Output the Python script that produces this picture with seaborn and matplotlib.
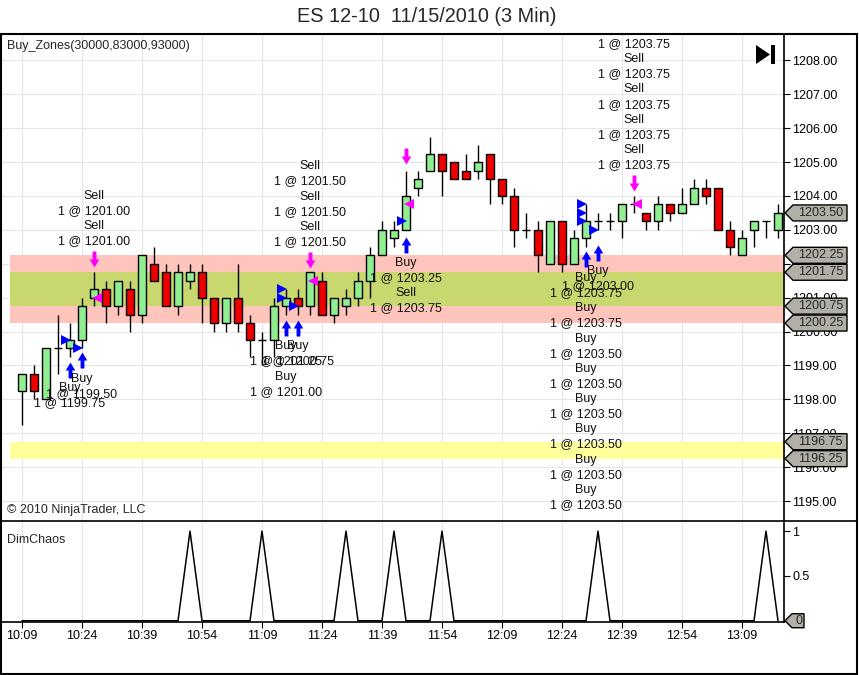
import matplotlib
matplotlib.use('Agg')
import matplotlib.pyplot as plt
from matplotlib.patches import Polygon, Rectangle
from matplotlib.lines import Line2D
from matplotlib.path import Path
from matplotlib.transforms import offset_copy, IdentityTransform
import numpy as np
import pandas as pd
import seaborn as sns

sns.set_theme(style='white')
plt.rcParams['font.family'] = ['Liberation Sans', 'DejaVu Sans']

# --- data (3 min bars from 10:09) ---
start_time = '2010-11-15 10:09'
opens = [1198.25, 1198.75, 1198.00, 1199.50, 1199.50, 1199.75, 1201.00, 1201.25, 1200.75, 1201.25,
         1200.50, 1202.00, 1201.75, 1200.75, 1201.50, 1201.75, 1201.00, 1200.25, 1201.00, 1200.25,
         1199.75, 1199.75, 1200.75, 1201.00, 1200.75, 1201.50, 1200.50, 1200.75, 1201.00, 1201.50,
         1202.25, 1202.75, 1203.00, 1204.25, 1204.75, 1205.25, 1205.00, 1204.75, 1204.75, 1205.25,
         1204.50, 1204.00, 1203.00, 1203.00, 1202.00, 1203.25, 1202.00, 1202.75, 1203.25, 1203.25,
         1203.25, 1203.75, 1203.50, 1203.25, 1203.75, 1203.50, 1203.75, 1204.25, 1204.25, 1203.00,
         1202.25, 1203.00, 1203.25, 1203.00]
highs = [1198.75, 1199.00, 1199.50, 1200.50, 1200.25, 1201.00, 1201.75, 1201.50, 1201.50, 1201.50,
         1202.25, 1202.50, 1202.00, 1202.00, 1202.00, 1202.00, 1201.00, 1201.00, 1202.00, 1200.50,
         1200.00, 1201.00, 1201.25, 1201.25, 1201.75, 1201.75, 1201.00, 1201.25, 1201.75, 1202.50,
         1203.25, 1203.25, 1204.75, 1204.75, 1205.75, 1205.25, 1205.00, 1205.25, 1205.50, 1205.25,
         1204.50, 1204.25, 1203.50, 1203.25, 1203.25, 1203.25, 1203.00, 1203.75, 1203.50, 1203.50,
         1203.75, 1204.00, 1203.50, 1204.00, 1203.75, 1204.25, 1204.50, 1204.50, 1204.25, 1203.25,
         1203.00, 1203.25, 1203.25, 1203.75]
lows = [1197.25, 1198.00, 1198.00, 1198.75, 1199.25, 1199.50, 1200.75, 1200.25, 1200.50, 1200.00,
        1200.25, 1201.50, 1200.75, 1200.50, 1201.25, 1200.25, 1200.00, 1200.00, 1200.00, 1199.25,
        1199.00, 1199.25, 1200.50, 1200.50, 1200.50, 1200.50, 1200.25, 1200.50, 1200.75, 1201.00,
        1202.25, 1202.50, 1203.00, 1204.00, 1204.75, 1204.00, 1204.50, 1204.50, 1204.50, 1203.75,
        1203.75, 1202.50, 1202.75, 1201.75, 1202.00, 1201.75, 1202.00, 1202.50, 1203.00, 1203.00,
        1202.75, 1203.50, 1203.00, 1203.00, 1203.25, 1203.50, 1203.75, 1203.75, 1203.00, 1202.25,
        1202.25, 1202.50, 1202.75, 1202.75]
closes = [1198.75, 1198.25, 1199.50, 1199.50, 1199.75, 1200.75, 1201.25, 1200.75, 1201.50, 1200.50,
          1202.25, 1201.50, 1200.75, 1201.75, 1201.75, 1201.00, 1200.25, 1201.00, 1200.25, 1199.75,
          1199.75, 1200.75, 1201.00, 1200.75, 1201.75, 1200.50, 1201.00, 1201.00, 1201.50, 1202.25,
          1203.00, 1203.00, 1204.00, 1204.50, 1205.25, 1204.75, 1204.50, 1204.50, 1205.00, 1204.50,
          1204.00, 1203.00, 1203.00, 1202.25, 1203.25, 1202.00, 1202.75, 1203.25, 1203.25, 1203.25,
          1203.75, 1203.75, 1203.25, 1203.75, 1203.50, 1203.75, 1204.25, 1204.00, 1203.00, 1202.50,
          1202.75, 1203.25, 1203.25, 1203.50]
chaos_bars = [14, 20, 27, 31, 35, 48, 62]

zone_outer = (1200.25, 1202.25)
zone_inner = (1200.75, 1201.75)
zone_low = (1196.25, 1196.75)
tag_prices = [1203.50, 1202.25, 1201.75, 1200.75, 1200.25, 1196.75, 1196.25]

# trade signals
buy_bars = [4, 5, 22, 23, 32, 47, 48]
buy_arrow_at = [1199.10, 1199.37, 1200.33, 1200.33, 1202.79, 1202.35, 1202.55]
buy_fills = [
    [('Buy', '1199.75')],
    [('Buy', '1199.50')],
    [('Buy', '1201.25'), ('Buy', '1201.00')],
    [('Buy', '1200.75')],
    [('Buy', '1203.25'), ('Sell', '1203.75')],
    [('Buy', '1203.75')] * 2 + [('Buy', '1203.50')] * 6,
    [('Buy', '1203.00')],
]
sell_bars = [6, 24, 32, 51]
sell_arrow_at = [1201.92, 1201.90, 1204.97, 1204.17]
sell_label_bars = [6, 24, 51]
sell_label_counts = [2, 3, 8]
sell_label_prices = ['1201.00', '1201.50', '1203.75']
entry_bars = [4, 5, 22, 22, 23, 32, 47, 47, 47, 48]
entry_prices = [1199.75, 1199.50, 1201.25, 1201.00, 1200.75, 1203.25, 1203.75, 1203.50, 1203.25, 1203.00]
exit_bars = [6, 24, 32, 51]
exit_prices = [1201.00, 1201.50, 1203.75, 1203.75]

df = pd.DataFrame({'open': opens, 'high': highs, 'low': lows, 'close': closes})
df['bar'] = np.arange(len(df))
df['time'] = pd.date_range(start_time, periods=len(df), freq='3min')
chaos = np.zeros(len(df))
chaos[chaos_bars] = 1

W, H = 859, 675
fig = plt.figure(figsize=(W / 100, H / 100), dpi=100)
fig.patch.set_facecolor('white')


def fx(px):
    return px / W


def fy(py):
    return 1 - py / H


ax = fig.add_axes([fx(1), fy(521), fx(783), 487 / H])
ax2 = fig.add_axes([fx(1), fy(622), fx(783), 99 / H])

xlim = (-1.75, 63.5)
for a in (ax, ax2):
    a.set_xlim(*xlim)
    a.set_facecolor('white')
    a.set_axisbelow(True)
    a.set_xticks(range(0, len(df), 5))
    a.grid(axis='x', color='#e6e6e6', lw=0.8)
    for s in ('top', 'left'):
        a.spines[s].set_visible(False)
    a.spines['right'].set_color('black')
    a.spines['right'].set_linewidth(1.2)
    a.yaxis.tick_right()
    a.tick_params(axis='y', direction='out', length=4.3, width=0.8, colors='black',
                  labelsize=9, pad=1.5, right=True, left=False)

ax.spines['bottom'].set_visible(False)
ax.set_ylim(1194.41, 1208.78)
ax.set_yticks(np.arange(1195, 1209, 1))
ax.set_yticklabels([f'{v:.2f}' for v in np.arange(1195, 1209, 1)])
ax.grid(axis='y', color='#e6e6e6', lw=0.8)
ax.tick_params(axis='x', length=0, labelbottom=False)

# zones
xs = [-1, xlim[1]]
ax.fill_between(xs, *zone_outer, color='#ffc4bc', lw=0, zorder=1)
ax.fill_between(xs, *zone_inner, color='#c8d86e', lw=0, zorder=1.1)
ax.fill_between(xs, *zone_low, color='#ffff9c', lw=0, zorder=1)

# candles
up = df.close > df.open
dn = df.close < df.open
flat = df.close == df.open
bw = 0.64
ax.vlines(df.bar, df.low, df.high, color='black', lw=1, zorder=3)
ax.bar(df.bar[up], (df.close - df.open)[up], bottom=df.open[up], width=bw,
       color='#90ee90', edgecolor='black', lw=1, zorder=4)
ax.bar(df.bar[dn], (df.open - df.close)[dn], bottom=df.close[dn], width=bw,
       color='#ee0000', edgecolor='black', lw=1, zorder=4)
ax.hlines(df.open[flat], df.bar[flat] - bw / 2, df.bar[flat] + bw / 2, color='black', lw=1, zorder=4)

# arrow markers
up_arrow = Path([(0, 0.5), (0.3, 0.0), (0.12, 0.0), (0.12, -0.5), (-0.12, -0.5),
                 (-0.12, 0.0), (-0.3, 0.0), (0, 0.5)], closed=True)
dn_arrow = Path(up_arrow.vertices * [1, -1], closed=True)
below = offset_copy(ax.transData, fig=fig, y=-7.5, units='dots')
above = offset_copy(ax.transData, fig=fig, y=7.5, units='dots')
ax.plot(buy_bars, buy_arrow_at, ls='none', marker=up_arrow, ms=11.5, mew=0,
        color='#0000ff', transform=below, zorder=5)
ax.plot(sell_bars, sell_arrow_at, ls='none', marker=dn_arrow, ms=11.5, mew=0,
        color='#ff00ff', transform=above, zorder=5)
ax.plot(np.array(entry_bars) - 0.3, entry_prices, ls='none', marker='>', ms=6.5, mew=0,
        color='#0000ff', zorder=5)
ax.plot(np.array(exit_bars) + 0.22, exit_prices, ls='none', marker='<', ms=6.5, mew=0,
        color='#ff00ff', zorder=5)

# fill labels
ls_txt = 1.35
lab_below = offset_copy(ax.transData, fig=fig, y=-20, units='dots')
lab_above = offset_copy(ax.transData, fig=fig, y=19, units='dots')
for b, p, fills in zip(buy_bars, buy_arrow_at, buy_fills):
    txt = '\n'.join(f'{side}\n1 @ {price}' for side, price in fills)
    ax.text(b, p, txt, ha='center', va='top', fontsize=9, linespacing=ls_txt,
            transform=lab_below, zorder=6, color='#111111')
for b, n, price in zip(sell_label_bars, sell_label_counts, sell_label_prices):
    p = sell_arrow_at[sell_bars.index(b)]
    txt = '\n'.join([f'Sell\n1 @ {price}'] * n)
    ax.text(b, p, txt, ha='center', va='bottom', fontsize=9, linespacing=ls_txt,
            transform=lab_above, zorder=6, color='#111111', clip_on=True)

# lower panel
sns.lineplot(x=df.bar, y=chaos, ax=ax2, color='black', lw=1.1)
ax2.set_ylim(-0.014, 1.091)
ax2.set_yticks([0.5, 1])
ax2.set_yticklabels(['0.5', '1'])
ax2.set_ylabel('')
ax2.set_xlabel('')
ax2.spines['bottom'].set_color('black')
ax2.spines['bottom'].set_linewidth(1.2)
ax2.set_xticklabels(df.time.dt.strftime('%H:%M')[::5])
ax2.tick_params(axis='x', direction='out', length=4.3, width=0.8, colors='black',
                labelsize=9, pad=1.5, bottom=True)


def price_tag(a, value, text, half=8, width=63, tip=9):
    x0, y0 = a.transData.transform((xlim[1], value))
    verts = np.array([[1, 0], [tip, half], [width, half], [width, -half], [tip, -half]]) + [x0, y0]
    a.add_patch(Polygon(verts, closed=True, transform=IdentityTransform(), fc='#b2b0a6',
                        ec='black', lw=1, clip_on=False, zorder=8))
    a.text(x0 + (tip + width) / 2 + 0.5, y0, text, transform=IdentityTransform(), ha='center',
           va='center', fontsize=9, zorder=9, clip_on=False)


for v in tag_prices:
    price_tag(ax, v, f'{v:.2f}')
price_tag(ax2, 0, '0', half=7, width=20, tip=8)

# frame and separator
fig.add_artist(Rectangle((fx(1), fy(674)), fx(856), (674 - 34) / H, transform=fig.transFigure,
                         fill=False, ec='black', lw=1.5))
fig.add_artist(Line2D([fx(1), fx(857)], [fy(521), fy(521)], color='black', lw=1.2,
                      transform=fig.transFigure))

# texts
fig.text(fx(427), fy(17), 'ES 12-10  11/15/2010 (3 Min)', ha='center', va='center', fontsize=14.3)
fig.text(fx(7), fy(46), 'Buy_Zones(30000,83000,93000)', ha='left', va='center', fontsize=9)
fig.text(fx(7), fy(510), '\u00a9 2010 NinjaTrader, LLC', ha='left', va='center', fontsize=9)
fig.text(fx(7), fy(540), 'DimChaos', ha='left', va='center', fontsize=9)

# "go to end" button
fig.add_artist(Polygon([[fx(756), fy(45)], [fx(756), fy(64)], [fx(770), fy(54.5)]], closed=True,
                       fc='black', ec='none', transform=fig.transFigure))
fig.add_artist(Rectangle((fx(771), fy(64)), fx(4), 19 / H, fc='black', ec='none',
                         transform=fig.transFigure))

fig.savefig('out.png', dpi=100)
